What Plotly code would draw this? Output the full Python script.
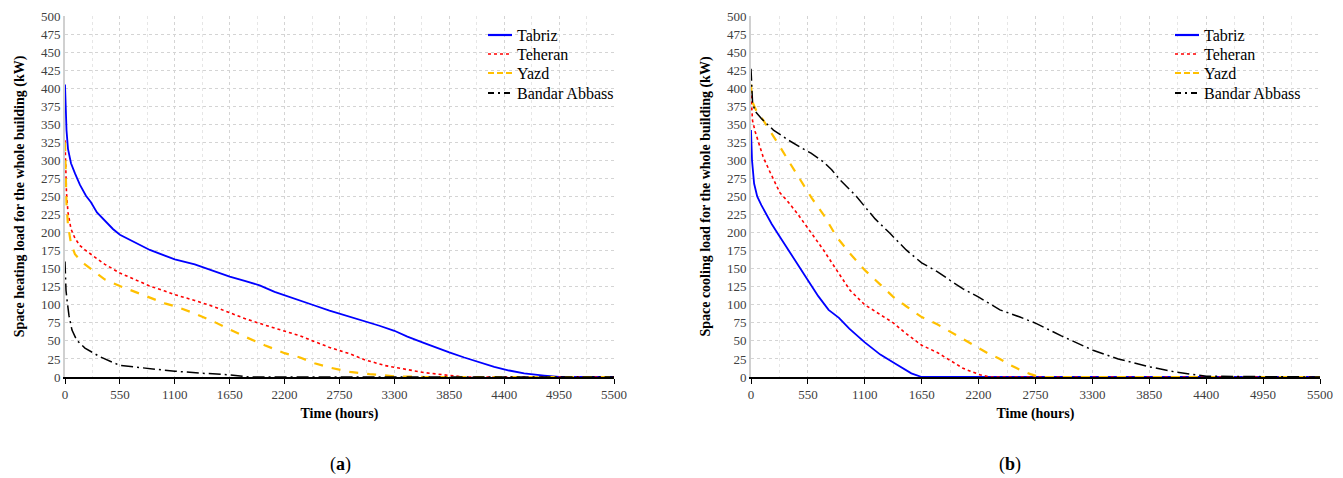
import plotly.graph_objects as go

# ---------- Data: (a) space heating ----------
heat_tabriz_t = [0,5,15,30,60,100,150,210,260,320,400,480,550,700,850,1000,1100,1300,1500,1650,1800,1950,2100,2200,2350,2500,2650,2750,2860,3000,3150,3300,3430,3600,3750,3850,4000,4150,4300,4450,4600,4800,4950,5500]
heat_tabriz_v = [405,372,342,316,296,282,266,251,242,228,216,205,197,186,176,168,163,156,146,139,133,127,118,113,106,99,92,88,83,77,71,64,56,47,39,34,27,20,14,9,5,2,0,0]

heat_teheran_t = [0,5,15,30,60,100,150,200,300,400,550,700,850,1000,1100,1300,1500,1650,1800,2000,2200,2355,2500,2650,2856,3000,3200,3424,3600,3800,4000,5500]
heat_teheran_v = [328,290,255,228,205,192,182,176,166,156,144,135,126,119,114,106,97,89,81,72,63,57,49,41,32,24,16,10,6,3,0,0]

heat_yazd_t = [0,5,15,30,60,100,150,200,300,400,550,700,850,1000,1100,1300,1500,1650,1800,2000,2200,2355,2500,2655,2856,3050,3300,3600,5500]
heat_yazd_v = [325,280,240,210,185,170,162,156,145,135,126,118,110,102,98,88,76,66,56,44,33,27,19,13,7,4,1,0,0]

heat_bandar_t = [0,3,10,20,40,70,117,200,350,550,800,1100,1400,1650,1850,5500]
heat_bandar_v = [160,140,120,107,85,65,51,40,28,16,12,8,5,3,0,0]

# ---------- Data: (b) space cooling ----------
cool_tabriz_t = [0,10,30,60,100,150,200,280,350,450,550,650,750,850,950,1100,1250,1400,1550,1650,5500]
cool_tabriz_v = [342,300,268,250,238,225,212,194,178,156,134,112,93,82,67,48,31,18,5,0,0]

cool_teheran_t = [0,5,15,40,80,117,180,280,345,450,550,700,828,957,1100,1250,1375,1500,1650,1800,1923,2050,2213,2310,5500]
cool_teheran_v = [390,370,355,340,320,305,285,255,245,226,206,176,148,120,100,87,75,60,44,34,23,12,3,0,0]

cool_yazd_t = [0,5,20,60,117,200,280,360,441,520,586,700,828,957,1100,1250,1375,1500,1650,1800,1923,2050,2197,2300,2406,2500,2600,2700,2792,5500]
cool_yazd_v = [405,392,379,366,356,338,319,300,282,264,248,225,194,171,148,128,111,98,83,73,63,52,40,32,25,17,10,4,0,0]

cool_bandar_t = [0,5,15,40,100,217,362,480,580,700,780,860,950,1020,1100,1200,1343,1500,1650,1800,1923,2050,2197,2406,2600,2760,3000,3306,3550,3855,4100,4403,5500]
cool_bandar_v = [427,400,380,368,358,342,328,318,310,298,287,273,260,250,236,219,199,176,158,146,134,122,111,93,83,74,57,37,25,14,7,1,0]

city_names = ["Tabriz", "Teheran", "Yazd", "Bandar Abbass"]
x_ticks = [0,550,1100,1650,2200,2750,3300,3850,4400,4950,5500]
y_ticks = list(range(0, 501, 25))

styles = [
    dict(color="#0000ff", dash="solid", width=1.8),
    dict(color="#ff0000", dash="dot", width=1.6),
    dict(color="#ffc000", dash="dash", width=2.2),
    dict(color="#000000", dash="12px,4px,2px,4px", width=1.5),
]
legend_styles = [
    dict(color="#0000ff", dash="solid", width=2.2),
    dict(color="#ff0000", dash="dot", width=1.6),
    dict(color="#ffc000", dash="6px,3px", width=2.2),
    dict(color="#000000", dash="6px,4px,2px,4px", width=1.8),
]

FONT = "Liberation Serif"
fig = go.Figure()

heat = [(heat_tabriz_t, heat_tabriz_v), (heat_teheran_t, heat_teheran_v),
        (heat_yazd_t, heat_yazd_v), (heat_bandar_t, heat_bandar_v)]
cool = [(cool_tabriz_t, cool_tabriz_v), (cool_teheran_t, cool_teheran_v),
        (cool_yazd_t, cool_yazd_v), (cool_bandar_t, cool_bandar_v)]

for name, (t, v), st in zip(city_names, heat, styles):
    fig.add_trace(go.Scatter(x=t, y=v, mode="lines", name=name, line=st,
                             xaxis="x", yaxis="y", showlegend=False))
for name, (t, v), st in zip(city_names, cool, styles):
    fig.add_trace(go.Scatter(x=t, y=v, mode="lines", name=name, line=st,
                             xaxis="x2", yaxis="y2", showlegend=False))

# body margin is removed by the post_script, so the figure fills the window
W, H = 1343, 478

def px(x):
    return x / W

def py(y):
    return 1 - y / H

y_dom = [py(377), py(16)]

def xaxis(domain, anchor):
    return dict(domain=domain, anchor=anchor, range=[0, 5500], tickvals=x_ticks, automargin=False,
                showgrid=True, gridcolor="#d4d4d4", griddash="dot", gridwidth=1,
                minor=dict(dtick=275, tick0=0, showgrid=True, gridcolor="#e6e6e6", griddash="dot"),
                showline=True, linecolor="#000000", linewidth=1.5,
                ticks="outside", ticklen=5, tickcolor="#000000", zeroline=False,
                tickfont=dict(family=FONT, size=13, color="#404040"),
                title=dict(text="<b>Time (hours)</b>", font=dict(family=FONT, size=14, color="#000"), standoff=7))

def yaxis(anchor, title):
    return dict(domain=y_dom, anchor=anchor, range=[0, 500], tickvals=y_ticks, automargin=False,
                showgrid=True, gridcolor="#d4d4d4", griddash="dot", gridwidth=1,
                showline=True, linecolor="#d0d0d0", linewidth=2, ticks="", zeroline=False,
                tickfont=dict(family=FONT, size=13, color="#404040"),
                title=dict(text=f"<b>{title}</b>", font=dict(family=FONT, size=14, color="#000"), standoff=13))

# manual legends (sample line + label) placed like the reference
shapes, annotations = [], []
row_y = [35, 54, 73, 93]
for (x0, x1, tx) in [(488, 512, 515), (1175, 1199, 1202)]:
    for name, st, yy in zip(city_names, legend_styles, row_y):
        shapes.append(dict(type="line", xref="paper", yref="paper",
                           x0=px(x0), x1=px(x1), y0=py(yy), y1=py(yy), line=st))
        annotations.append(dict(text=name, x=px(tx), y=py(yy), xref="paper", yref="paper",
                                xanchor="left", yanchor="middle", showarrow=False,
                                font=dict(family=FONT, size=16, color="#000")))

annotations += [
    dict(text="(<b>a</b>)", x=px(340), y=py(464), xref="paper", yref="paper",
         xanchor="center", yanchor="middle",
         showarrow=False, font=dict(family=FONT, size=18, color="#000")),
    dict(text="(<b>b</b>)", x=px(1010), y=py(464), xref="paper", yref="paper",
         xanchor="center", yanchor="middle",
         showarrow=False, font=dict(family=FONT, size=18, color="#000")),
]

fig.update_layout(
    width=W, height=H, margin=dict(l=0, r=0, t=0, b=0, autoexpand=False),
    paper_bgcolor="white", plot_bgcolor="white", showlegend=False,
    xaxis=xaxis([px(65), px(614)], "y"),
    yaxis=yaxis("x", "Space heating load for the whole building (kW)"),
    xaxis2=xaxis([px(751), px(1320)], "y2"),
    yaxis2=yaxis("x2", "Space cooling load for the whole building (kW)"),
    shapes=shapes,
    annotations=annotations,
)

fig.write_html("out.html", config={"displayModeBar": False},
               post_script="document.body.style.margin='0';document.body.style.overflow='hidden';")
